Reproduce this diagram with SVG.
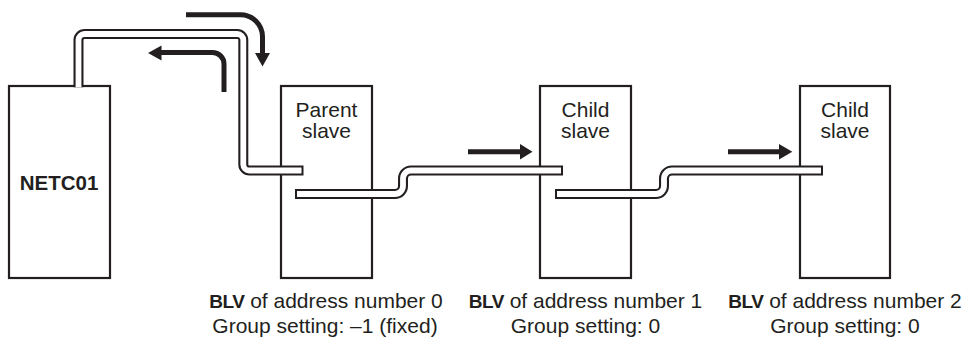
<svg xmlns="http://www.w3.org/2000/svg" width="967" height="338" viewBox="0 0 967 338">
<style>
.box{fill:#fff;stroke:#231f20;stroke-width:2.2}
.lbl{font-family:"Liberation Sans",Arial,sans-serif;font-size:21px;fill:#231f20;text-anchor:middle}
.bold{font-family:"Liberation Sans",Arial,sans-serif;font-weight:bold;fill:#231f20}
.cab-o{fill:none;stroke:#231f20;stroke-width:10}
.cab-i{fill:none;stroke:#fff;stroke-width:5.8}
.shaft{fill:none;stroke:#231f20;stroke-width:5}
.head{fill:#231f20}
</style>
<rect width="967" height="338" fill="#fff"/>
<g id="netc01">
<rect class="box" x="9" y="86" width="101" height="192"/>
<text class="bold" x="59" y="190" font-size="20.5" text-anchor="middle">NETC01</text>
</g>
<g id="parent-slave">
<rect class="box" x="281" y="86" width="91" height="192"/>
<text class="lbl" x="326.5" y="116.5">Parent</text>
<text class="lbl" x="326.5" y="137.5">slave</text>
<text class="lbl" x="326" y="307.5"><tspan class="bold" font-size="19" letter-spacing="-0.5">BLV</tspan> of address number 0</text>
<text class="lbl" x="325" y="332.5">Group setting: –1 (fixed)</text>
</g>
<g id="child-slave-1">
<rect class="box" x="540" y="86" width="91" height="192"/>
<text class="lbl" x="585.5" y="116.5">Child</text>
<text class="lbl" x="585.5" y="137.5">slave</text>
<text class="lbl" x="585.5" y="307.5"><tspan class="bold" font-size="19" letter-spacing="-0.5">BLV</tspan> of address number 1</text>
<text class="lbl" x="585.5" y="332.5">Group setting: 0</text>
</g>
<g id="child-slave-2">
<rect class="box" x="800" y="86" width="90" height="192"/>
<text class="lbl" x="845" y="116.5">Child</text>
<text class="lbl" x="845" y="137.5">slave</text>
<text class="lbl" x="845" y="307.5"><tspan class="bold" font-size="19" letter-spacing="-0.5">BLV</tspan> of address number 2</text>
<text class="lbl" x="845" y="332.5">Group setting: 0</text>
</g>
<g id="connectors">
<path class="cab-o" d="M78.5,87.2 V40 A6,6 0 0 1 84.5,34 H237.3 A6,6 0 0 1 243.3,40 V164.5 A6,6 0 0 0 249.3,170.5 H303.5"/>
<path class="cab-i" d="M78.5,87.2 V40 A6,6 0 0 1 84.5,34 H237.3 A6,6 0 0 1 243.3,40 V164.5 A6,6 0 0 0 249.3,170.5 H301.5"/>
<path class="cab-o" d="M295,194 H395 A8,8 0 0 0 403,186 V178.5 A8,8 0 0 1 411,170.5 H563"/>
<path class="cab-i" d="M297,194 H395 A8,8 0 0 0 403,186 V178.5 A8,8 0 0 1 411,170.5 H561"/>
<path class="cab-o" d="M555,194 H656 A8,8 0 0 0 664,186 V178.5 A8,8 0 0 1 672,170.5 H823"/>
<path class="cab-i" d="M557,194 H656 A8,8 0 0 0 664,186 V178.5 A8,8 0 0 1 672,170.5 H821"/>
<path class="shaft" d="M186,14.8 H240.5 A22,22 0 0 1 262.5,36.8 V54"/>
<polygon class="head" points="255,53 270,53 262.5,66.5"/>
<path class="shaft" d="M224,92 V64 A11.5,11.5 0 0 0 212.5,52.5 H160"/>
<polygon class="head" points="161.5,45.5 148,53 161.5,60.5"/>
<path class="shaft" d="M468,151.7 H521"/>
<polygon class="head" points="520,144 532.5,151.7 520,159.4"/>
<path class="shaft" d="M728,151.7 H780"/>
<polygon class="head" points="779,144 792.3,151.7 779,159.4"/>
</g>
</svg>
